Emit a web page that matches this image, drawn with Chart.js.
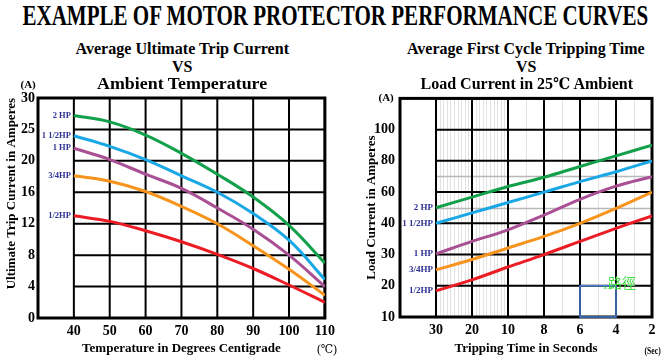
<!DOCTYPE html>
<html>
<head>
<meta charset="utf-8">
<script src="https://cdn.jsdelivr.net/npm/chart.js@4.4.1/dist/chart.umd.min.js"></script>
<style>
  body { margin: 0; width: 666px; height: 362px; background: #fff; position: relative; overflow: hidden;
         font-family: 'Liberation Serif', 'DejaVu Serif Condensed', 'DejaVu Serif', serif; font-weight: bold; color: #000; }
  .t { position: absolute; white-space: nowrap; line-height: 1; transform-origin: center center; }
  #leftBox, #rightBox { position: absolute; top: 85px; height: 277px; }
  #leftBox { left: 0; width: 340px; }
  #rightBox { left: 340px; width: 326px; }
</style>
</head>
<body>
<div id="leftBox"><canvas id="tempChart" width="340" height="277"></canvas></div>
<div id="rightBox"><canvas id="timeChart" width="326" height="277"></canvas></div>

<div class="t" data-cx="335" data-cy="15" data-w="626" style="font-size:30px">EXAMPLE OF MOTOR PROTECTOR PERFORMANCE CURVES</div>
<div class="t" data-cx="182" data-cy="49" data-w="214" style="font-size:16px">Average Ultimate Trip Current</div>
<div class="t" data-cx="182" data-cy="67" style="font-size:16px">VS</div>
<div class="t" data-cx="182" data-cy="84" data-w="170" style="font-size:16px">Ambient Temperature</div>
<div class="t" data-cx="526" data-cy="49" data-w="238" style="font-size:16px">Average First Cycle Tripping Time</div>
<div class="t" data-cx="526" data-cy="67" style="font-size:16px">VS</div>
<div class="t" data-cx="527" data-cy="84" data-w="213" style="font-size:16px">Load Current in 25℃ Ambient</div>
<div class="t" data-cx="28" data-cy="84" style="font-size:11px">(A)</div>
<div class="t" data-cx="386" data-cy="97" style="font-size:11px">(A)</div>
<div class="t" data-cx="327" data-cy="349" style="font-size:12px;font-weight:normal">(℃)</div>
<div class="t" data-cx="652" data-cy="350" data-w="16" style="font-size:11px">(Sec)</div>

<script>
// ---- left chart: ultimate trip current vs ambient temperature
const tempC = [40, 50, 60, 70, 80, 90, 100, 110];
const ampTicks = [0, 4, 8, 12, 16, 20, 25, 30];
const trip2hp = [27.2, 26.2, 24.1, 21.2, 18.3, 15.4, 11.8, 7.0];
const trip15hp = [24.0, 22.3, 20.2, 18.1, 16.0, 13.3, 9.9, 4.9];
const trip1hp = [22.0, 20.2, 18.3, 16.5, 14.0, 11.3, 8.0, 4.0];
const trip34hp = [18.1, 17.4, 16.1, 14.2, 12.0, 9.2, 6.2, 2.9];
const trip12hp = [13.0, 12.3, 11.1, 9.7, 8.1, 6.3, 4.2, 2.0];

// ---- right chart: first cycle tripping time vs load current
const tripSeconds = [30, 20, 10, 8, 6, 4, 2];
const loadTicks = [10, 20, 30, 40, 60, 80, 100];
const loadMinor = [50, 70];
const load2hp = [50, 56.8, 63.6, 69.5, 76.4, 83.2, 90];
const load15hp = [40, 46.7, 53.3, 60, 66.7, 73, 80];
const load1hp = [30.2, 34.2, 37.9, 45.3, 55.4, 63.8, 69.9];
const load34hp = [25.1, 28.4, 32.1, 35.8, 40, 49.5, 60];
const load12hp = [18.4, 21.9, 26, 30, 34.2, 38.4, 44.8];

const hpLabels = ['2 HP', '1 1/2HP', '1 HP', '3/4HP', '1/2HP'];
const hpColors = ['#12a04a', '#1aa7e6', '#a94f93', '#f7941d', '#ec1c24'];

const SERIF = "'Liberation Serif', 'DejaVu Serif Condensed', 'DejaVu Serif', serif";

// place the html texts, squeezing them to the reference widths
document.querySelectorAll('.t').forEach(el => {
  const w = el.offsetWidth, h = el.offsetHeight;
  const s = el.dataset.w ? el.dataset.w / w : 1;
  el.style.left = (el.dataset.cx - w / 2) + 'px';
  el.style.top = (el.dataset.cy - h / 2) + 'px';
  el.style.transform = `scaleX(${s})`;
});

// the axes are unevenly labelled, each label sits one grid step apart
function toGrid(v, ticks) {
  for (let i = 0; i < ticks.length - 1; i++) {
    if (v <= ticks[i + 1]) return i + (v - ticks[i]) / (ticks[i + 1] - ticks[i]);
  }
  return ticks.length - 1;
}

const paperGrid = {
  id: 'paperGrid',
  beforeDatasetsDraw(chart, args, opts) {
    const { ctx, chartArea: a, scales: { x, y } } = chart;
    const x0 = x.getPixelForValue(opts.startX);
    const vline = (px, w) => { ctx.lineWidth = w; ctx.beginPath(); ctx.moveTo(px, a.top); ctx.lineTo(px, a.bottom); ctx.stroke(); };
    const hline = (py, w) => { ctx.lineWidth = w; ctx.beginPath(); ctx.moveTo(x0, py); ctx.lineTo(a.right, py); ctx.stroke(); };
    ctx.save();
    ctx.strokeStyle = '#e2e2e2';
    (opts.minorX || []).forEach(v => vline(Math.round(x.getPixelForValue(v)) + 0.5, 1));
    ctx.strokeStyle = '#b8b8b8';
    (opts.minorY || []).forEach(v => hline(Math.round(y.getPixelForValue(v)) + 0.5, 1.5));
    ctx.strokeStyle = '#000';
    x.ticks.forEach(t => vline(x.getPixelForValue(t.value), 2));
    y.ticks.forEach(t => hline(y.getPixelForValue(t.value), 2));
    ctx.lineWidth = 3;
    ctx.strokeRect(a.left, a.top, a.width, a.height);
    if (opts.mark) {
      const m = opts.mark;
      const l = x.getPixelForValue(m.x0), r = x.getPixelForValue(m.x1);
      const t = y.getPixelForValue(m.y1), b = y.getPixelForValue(m.y0);
      ctx.strokeStyle = '#4a80dc';
      ctx.lineWidth = 1.5;
      ctx.strokeRect(l, t, r - l, b - t);
    }
    ctx.restore();
  },
  afterDatasetsDraw(chart, args, opts) {
    const { ctx } = chart;
    ctx.save();
    ctx.fillStyle = '#2e3192';
    ctx.font = `bold ${opts.labelSize}px ${SERIF}`;
    ctx.textAlign = 'right';
    ctx.textBaseline = 'middle';
    chart.data.datasets.forEach((ds, i) => {
      const p = chart.getDatasetMeta(i).data[0];
      ctx.fillText(ds.label, p.x - 3, p.y);
    });
    if (opts.mark) {
      const { x, y } = chart.scales;
      const px = x.getPixelForValue(opts.mark.x1), py = y.getPixelForValue(opts.mark.y1);
      ctx.fillStyle = '#3ee03e';
      ctx.font = `14px 'Noto Sans CJK TC', sans-serif`;
      ctx.textAlign = 'left';
      ctx.textBaseline = 'bottom';
      ctx.fillText(opts.mark.text, px - 8, py + 4);
      ctx.font = `8px sans-serif`;
      ctx.fillText('×', px - 13, py + 6);
    }
    ctx.restore();
  }
};

function lineSet(label, data, color) {
  return { label, data, borderColor: color, borderWidth: 3, pointRadius: 0, fill: false, tension: 0.4 };
}

const tickFont = { family: SERIF, size: 14, weight: 'bold' };
const titleFont = { family: SERIF, size: 13, weight: 'bold' };

function axisOpts(extra) {
  return Object.assign({ type: 'linear', grid: { display: false, drawTicks: false }, border: { display: false } }, extra);
}

new Chart(document.getElementById('tempChart'), {
  type: 'line',
  data: {
    datasets: [trip2hp, trip15hp, trip1hp, trip34hp, trip12hp].map((s, i) =>
      lineSet(hpLabels[i], s.map((v, k) => ({ x: tempC[k], y: toGrid(v, ampTicks) })), hpColors[i]))
  },
  options: {
    responsive: false, animation: false, devicePixelRatio: 1,
    layout: { padding: { left: 0, right: 15, top: 13, bottom: 0 } },
    plugins: {
      legend: { display: false }, tooltip: { enabled: false },
      paperGrid: { startX: 40, labelSize: 8.5 }
    },
    scales: {
      x: axisOpts({
        min: 30, max: 110,
        ticks: { stepSize: 10, padding: 5, color: '#000', font: tickFont, maxRotation: 0,
                 callback: v => v === 30 ? '' : v },
        title: { display: true, text: 'Temperature in Degrees Centigrade', color: '#000', font: titleFont,
                 padding: { top: 0, bottom: 6 } },
        afterFit: s => { s.height = 44; }
      }),
      y: axisOpts({
        min: 0, max: ampTicks.length - 1,
        ticks: { stepSize: 1, padding: 3, color: '#000', font: tickFont, callback: v => ampTicks[v] ?? '' },
        title: { display: true, align: 'end', text: 'Ultimate Trip Current in Amperes', color: '#000', font: titleFont,
                 padding: { top: 4, bottom: 0 } },
        afterFit: s => { s.width = 38; }
      })
    }
  },
  plugins: [paperGrid]
});

// minor lines between the seconds ticks, one per second
const secMinor = [];
for (let i = 0; i < tripSeconds.length - 1; i++) {
  const n = tripSeconds[i] - tripSeconds[i + 1];
  for (let k = 1; k < n; k++) secMinor.push(i + k / n);
}

new Chart(document.getElementById('timeChart'), {
  type: 'line',
  data: {
    datasets: [load2hp, load15hp, load1hp, load34hp, load12hp].map((s, i) =>
      lineSet(hpLabels[i], s.map((v, k) => ({ x: k, y: toGrid(v, loadTicks) })), hpColors[i]))
  },
  options: {
    responsive: false, animation: false, devicePixelRatio: 1,
    layout: { padding: { left: 20, right: 14, top: 10, bottom: 0 } },
    plugins: {
      legend: { display: false }, tooltip: { enabled: false },
      paperGrid: {
        startX: 0, labelSize: 9,
        minorX: secMinor,
        minorY: loadMinor.map(v => toGrid(v, loadTicks)),
        mark: { x0: 4, x1: 5, y0: 0, y1: 1, text: '路徑' }
      }
    },
    scales: {
      x: axisOpts({
        min: -1, max: tripSeconds.length - 1,
        ticks: { stepSize: 1, padding: 5, color: '#000', font: tickFont, maxRotation: 0,
                 callback: v => tripSeconds[v] ?? '' },
        title: { display: true, text: 'Tripping Time in Seconds', color: '#000', font: titleFont,
                 padding: { top: 0, bottom: 6 } },
        afterFit: s => { s.height = 45; }
      }),
      y: axisOpts({
        min: 0, max: 7,
        ticks: { stepSize: 1, padding: 5, color: '#000', font: tickFont, callback: v => loadTicks[v] ?? '' },
        title: { display: true, text: 'Load Current in Amperes', color: '#000', font: titleFont,
                 padding: { top: 4, bottom: 0 } },
        afterFit: s => { s.width = 40; }
      })
    }
  },
  plugins: [paperGrid]
});
</script>
</body>
</html>
